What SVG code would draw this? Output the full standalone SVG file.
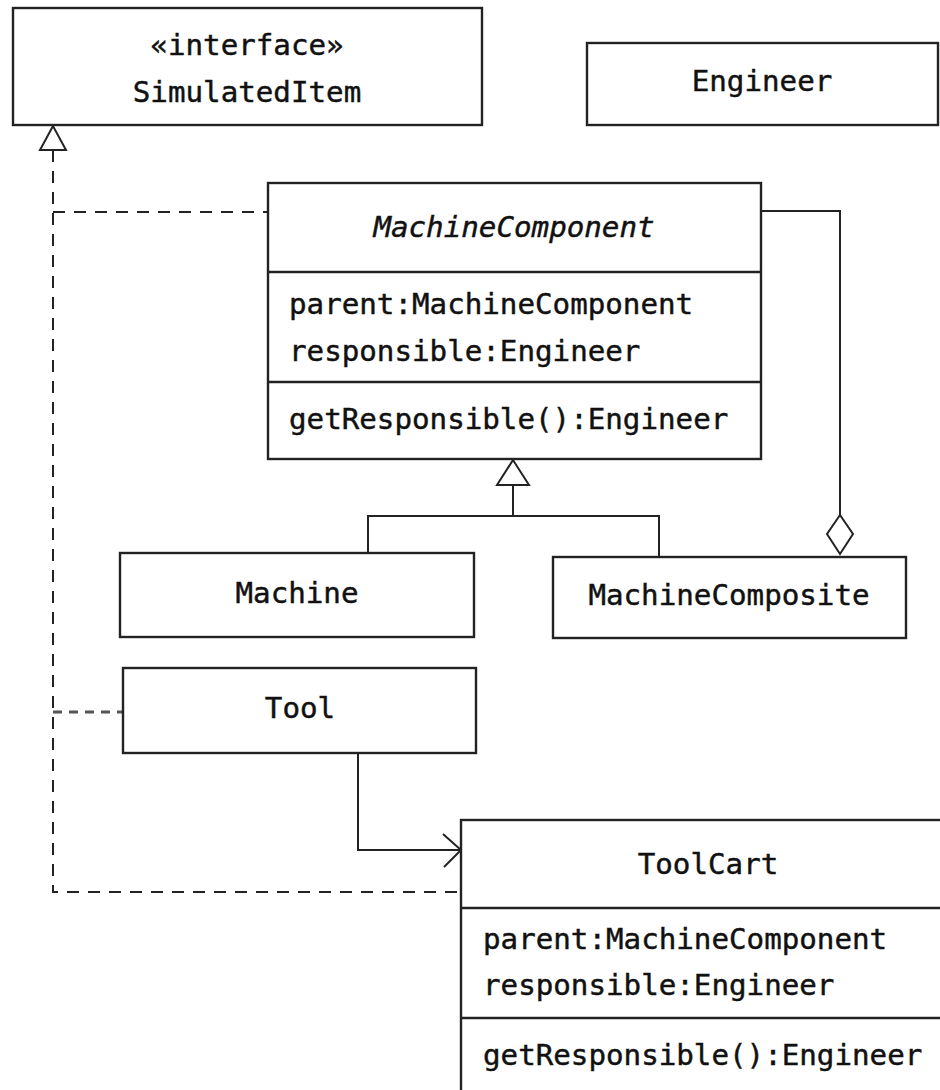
<svg xmlns="http://www.w3.org/2000/svg" width="940" height="1090" viewBox="0 0 940 1090">
<defs>
<style>
.box{fill:#fff;stroke:#222;stroke-width:2.4}
.div{stroke:#222;stroke-width:2.4}
.t{font-family:"DejaVu Sans Mono","Liberation Mono",monospace;font-size:29.2px;fill:#111;stroke:#111;stroke-width:0.45}
.c{text-anchor:middle}
.i{font-style:italic}
.ln{fill:none;stroke:#222;stroke-width:2}
.dash{fill:none;stroke:#222;stroke-width:2;stroke-dasharray:12 9}
.dash2{fill:none;stroke:#555;stroke-width:3;stroke-dasharray:9 7}
.head{fill:#fff;stroke:#222;stroke-width:2}
</style>
</defs>
<rect width="940" height="1090" fill="#fff"/>
<g id="connectors">
<path class="dash" d="M53 150 V892 H461"/>
<path class="dash" d="M53 212 H268"/>
<path class="dash2" d="M53 712 H123"/>
<polygon class="head" points="53,126 40,150 66,150"/>
<path class="ln" d="M513 485 V516 M368 553 V516 H659 V557"/>
<polygon class="head" points="513,460 497,485 529,485"/>
<path class="ln" d="M761 211 H840 V515"/>
<polygon class="head" points="840,515 827,534 840,554 853,534"/>
<path class="ln" d="M358 753 V850 H460"/>
<path class="ln" d="M443 834 L461 850 L444 867"/>
</g>
<g id="SimulatedItem">
<rect class="box" x="13" y="8" width="469" height="117"/>
<text class="t c" x="247" y="55">«interface»</text>
<text class="t c" x="247" y="102">SimulatedItem</text>
</g>
<g id="Engineer">
<rect class="box" x="587" y="43" width="351" height="82"/>
<text class="t c" x="762" y="91">Engineer</text>
</g>
<g id="MachineComponent">
<rect class="box" x="268" y="183" width="493" height="276"/>
<line class="div" x1="268" y1="272" x2="761" y2="272"/>
<line class="div" x1="268" y1="382" x2="761" y2="382"/>
<text class="t c i" x="514" y="237">MachineComponent</text>
<text class="t" x="289" y="314">parent:MachineComponent</text>
<text class="t" x="289" y="361">responsible:Engineer</text>
<text class="t" x="289" y="429">getResponsible():Engineer</text>
</g>
<g id="Machine">
<rect class="box" x="120" y="553" width="354" height="84"/>
<text class="t c" x="297" y="603">Machine</text>
</g>
<g id="MachineComposite">
<rect class="box" x="553" y="557" width="353" height="81"/>
<text class="t c" x="729" y="605">MachineComposite</text>
</g>
<g id="Tool">
<rect class="box" x="123" y="668" width="353" height="85"/>
<text class="t c" x="300" y="718">Tool</text>
</g>
<g id="ToolCart">
<rect class="box" x="461" y="820" width="494" height="300"/>
<line class="div" x1="461" y1="908" x2="955" y2="908"/>
<line class="div" x1="461" y1="1018" x2="955" y2="1018"/>
<text class="t c" x="708" y="874">ToolCart</text>
<text class="t" x="483" y="949">parent:MachineComponent</text>
<text class="t" x="483" y="995">responsible:Engineer</text>
<text class="t" x="483" y="1065">getResponsible():Engineer</text>
</g>
</svg>
